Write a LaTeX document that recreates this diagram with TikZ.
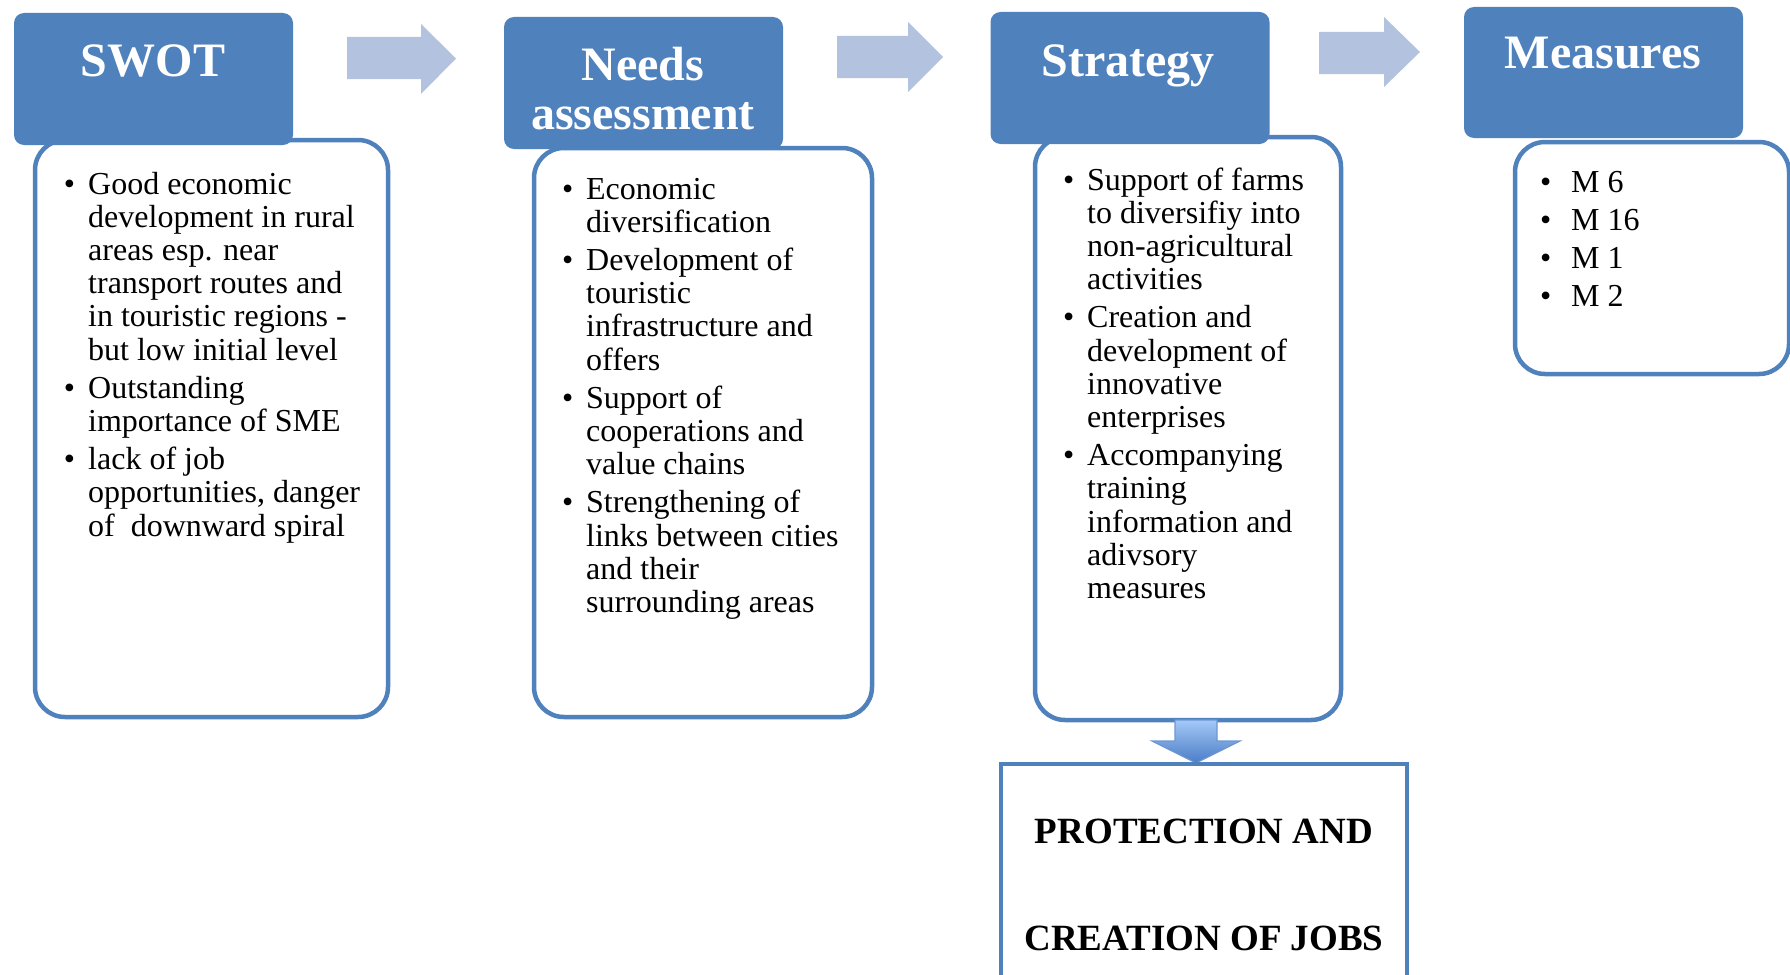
\documentclass[tikz,border=0pt]{standalone}
\usepackage{fontspec}
\setmainfont{Liberation Serif}
\definecolor{hdr}{HTML}{4F81BD}
\definecolor{arr}{HTML}{B3C2DE}
\definecolor{arrtop}{HTML}{A4C8F8}
\definecolor{arrbot}{HTML}{4A7DC6}
\newcommand\bl[1]{\leavevmode\llap{\textbullet\hspace{13pt}}#1}
\newcommand\blw[1]{\leavevmode\llap{\textbullet\hspace{20pt}}#1}
\begin{document}
\begin{tikzpicture}[x=1pt,y=-1pt,
  hdrbox/.style={fill=hdr, rounded corners=10pt, inner sep=0, minimum width=279pt, minimum height=132pt},
  listbox/.style={draw=hdr, line width=4.5pt, fill=white, rounded corners=30pt, inner sep=0},
  title/.style={text=white, font=\bfseries\fontsize{48}{48}\selectfont, inner sep=0, anchor=base},
  listtext/.style={font=\fontsize{32}{33.2}\selectfont, inner sep=0, anchor=base west},
  flowarrow/.style={fill=arr},
]
\useasboundingbox (0,0) rectangle (1790,974);

% content boxes
\node[listbox, minimum width=353pt, minimum height=577pt] (swotbox) at (211.5,428.5) {};
\node[listbox, minimum width=338pt, minimum height=569pt] (needsbox) at (703,432.5) {};
\node[listbox, minimum width=306pt, minimum height=583pt] (stratbox) at (1188,428.5) {};
\node[listbox, minimum width=274pt, minimum height=232pt] (measbox) at (1652,258) {};

% headers
\node[hdrbox] (swothdr) at (153.5,79) {};
\node[hdrbox] (needshdr) at (643.5,83) {};
\node[hdrbox] (strathdr) at (1130,78) {};
\node[hdrbox, minimum height=131pt] (meashdr) at (1603.5,72.5) {};

\node[title] (swott) at (153,77) {SWOT};
\node[title] (needst) at (643,81) {\begin{minipage}[t]{270pt}\centering Needs\\assessment\end{minipage}};
\node[title] (stratt) at (1128,76) {Strategy};
\node[title] (meast) at (1603,69) {Measures};

% flow arrows
\fill[flowarrow] (347,37) -- (421,37) -- (421,24) -- (456,58.5) -- (421,94) -- (421,79) -- (347,79) -- cycle;
\fill[flowarrow] (837,36) -- (908,36) -- (908,22) -- (943,57) -- (908,92) -- (908,78) -- (837,78) -- cycle;
\fill[flowarrow] (1319,32) -- (1384,32) -- (1384,17) -- (1420,52) -- (1384,87) -- (1384,74) -- (1319,74) -- cycle;

% lists
\node[listtext] (swotlist) at (88,194) {\begin{minipage}[t]{300pt}
\bl{Good economic}\\
development in rural\\
areas esp. near\\
transport routes and\\
in touristic regions -\\
but low initial level\\[5pt]
\bl{Outstanding}\\
importance of SME\\[5pt]
\bl{lack of job}\\
opportunities, danger\\
of\ \ downward spiral
\end{minipage}};

\node[listtext] (needslist) at (586,199) {\begin{minipage}[t]{300pt}
\bl{Economic}\\
diversification\\[5pt]
\bl{Development of}\\
touristic\\
infrastructure and\\
offers\\[5pt]
\bl{Support of}\\
cooperations and\\
value chains\\[5pt]
\bl{Strengthening of}\\
links between cities\\
and their\\
surrounding areas
\end{minipage}};

\node[listtext] (stratlist) at (1087,190) {\begin{minipage}[t]{300pt}
\bl{Support of farms}\\
to diversifiy into\\
non-agricultural\\
activities\\[5pt]
\bl{Creation and}\\
development of\\
innovative\\
enterprises\\[5pt]
\bl{Accompanying}\\
training\\
information and\\
adivsory\\
measures
\end{minipage}};

\node[listtext] (measlist) at (1571,192) {\begin{minipage}[t]{200pt}
\blw{M 6}\\[5pt]
\blw{M 16}\\[5pt]
\blw{M 1}\\[5pt]
\blw{M 2}
\end{minipage}};

% down arrow
\draw[draw=arrbot!80!white, line width=1.2pt, top color=arrtop, bottom color=arrbot]
  (1175,720) -- (1217,720) -- (1217,741) -- (1240,741) -- (1196,763) -- (1152,741) -- (1175,741) -- cycle;

% result box
\node[draw=hdr, line width=3.5pt, inner sep=0, minimum width=406pt, minimum height=216pt] (jobsbox) at (1204,872) {};
\node[font=\bfseries\fontsize{37}{107}\selectfont, inner sep=0, anchor=base] (jobst) at (1204,843)
  {\begin{minipage}[t]{400pt}\centering PROTECTION AND\\CREATION OF JOBS\end{minipage}};
\end{tikzpicture}
\end{document}
